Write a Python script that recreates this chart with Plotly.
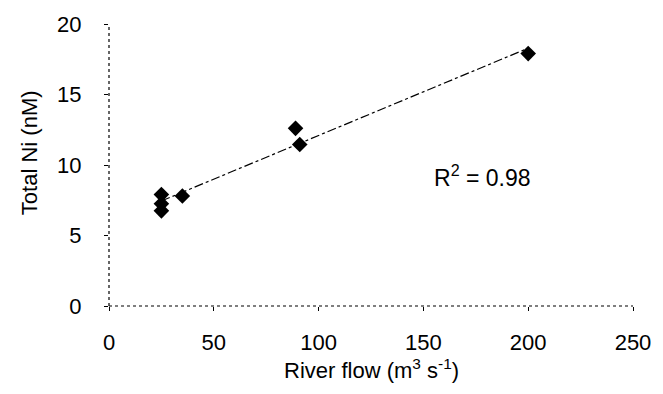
import numpy as np
import plotly.graph_objects as go

# Data
river_flow = [25, 25, 25, 35, 89, 91, 200]
total_ni = [7.9, 7.25, 6.75, 7.8, 12.6, 11.45, 17.9]
x_ticks = [0, 50, 100, 150, 200, 250]
y_ticks = [0, 5, 10, 15, 20]
r2_label = "R<sup>2</sup> = 0.98"
x_title = "River flow (m<sup>3</sup> s<sup>-1</sup>)"
y_title = "Total Ni (nM)"

slope, intercept = np.polyfit(river_flow, total_ni, 1)
fit_x = [min(river_flow), max(river_flow)]
fit_y = [slope * v + intercept for v in fit_x]

font = dict(family="Liberation Sans, Arial, sans-serif", size=22, color="black")

fig = go.Figure()
fig.add_trace(go.Scatter(x=fit_x, y=fit_y, mode="lines",
                         line=dict(color="black", width=1.2, dash="dashdot"),
                         hoverinfo="skip", showlegend=False))
fig.add_trace(go.Scatter(x=river_flow, y=total_ni, mode="markers",
                         marker=dict(symbol="diamond", size=12, color="black"),
                         showlegend=False))

fig.add_annotation(x=178, y=9.2, xref="x", yref="y", text=r2_label,
                   showarrow=False, font=dict(font, size=23))

# axis titles placed as annotations for exact placement
fig.add_annotation(x=0.5, y=-0.225, xref="paper", yref="paper", text=x_title,
                   showarrow=False, font=font, xanchor="center", yanchor="middle")
fig.add_annotation(x=-0.153, y=0.545, xref="paper", yref="paper", text=y_title,
                   showarrow=False, font=font, textangle=-90,
                   xanchor="center", yanchor="middle")

# dotted axis lines (the reference axes are broken / dotted)
fig.add_shape(type="line", xref="x domain", yref="y domain", x0=0, x1=1, y0=0, y1=0,
              line=dict(color="black", width=1.2, dash="dot"))
fig.add_shape(type="line", xref="x domain", yref="y domain", x0=0, x1=0, y0=0, y1=1,
              line=dict(color="black", width=1.2, dash="dot"))

fig.update_layout(
    width=663, height=394,
    margin=dict(l=109, r=24, t=24, b=88),
    paper_bgcolor="white", plot_bgcolor="white",
    font=font,
    xaxis=dict(range=[0, 250], tickvals=x_ticks, showgrid=False, zeroline=False,
               showline=False, ticks="outside", ticklen=4, tickcolor="black",
               ticklabelstandoff=13),
    yaxis=dict(range=[0, 20], tickvals=y_ticks, showgrid=False, zeroline=False,
               showline=False, ticks="outside", ticklen=4, tickcolor="black",
               ticklabelstandoff=18),
)

fig.write_html("out.html")
